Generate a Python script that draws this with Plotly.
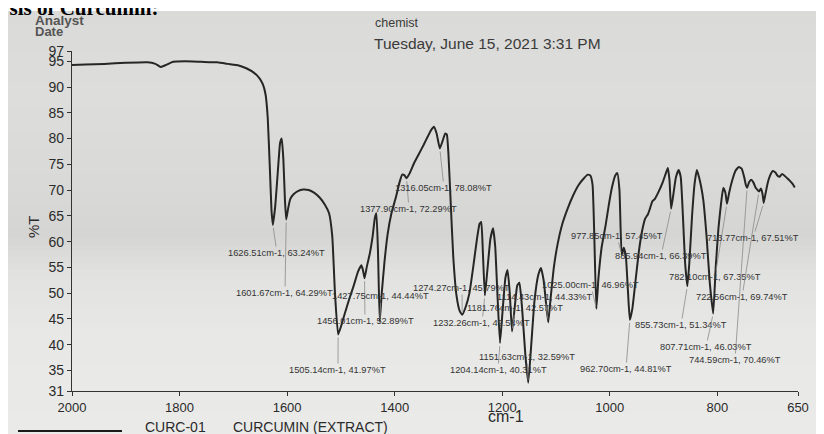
import plotly.graph_objects as go

# ---------------- data ----------------
wavenumber = [2000, 1975, 1940, 1900, 1860, 1845, 1835, 1825, 1812, 1790, 1760, 1730, 1710, 1690, 1675, 1662,
              1652, 1645, 1640, 1636, 1632, 1629, 1626.51, 1622, 1617, 1613, 1610, 1607, 1604, 1601.67, 1598,
              1594, 1588, 1580, 1570, 1560, 1550, 1540, 1530, 1522, 1516, 1511, 1505.14, 1499, 1492, 1484,
              1476, 1468, 1462, 1459, 1456.01, 1452, 1446, 1441, 1437, 1434, 1431, 1427.75, 1424, 1419, 1413,
              1406, 1398, 1391, 1386, 1382, 1377.90, 1372, 1364, 1355, 1346, 1338, 1332, 1327, 1322, 1316.05,
              1311, 1306, 1303, 1300, 1296, 1291, 1285, 1279, 1274.27, 1268, 1261, 1254, 1247, 1242, 1239,
              1236, 1232.26, 1228, 1222, 1217, 1213, 1209, 1204.14, 1199, 1194, 1190, 1186, 1181.76, 1177,
              1172, 1168, 1163, 1157, 1151.63, 1146, 1140, 1133, 1128, 1123, 1118, 1114.43, 1110, 1104, 1097,
              1088, 1078, 1068, 1058, 1048, 1041, 1036, 1032, 1029, 1025.00, 1021, 1015, 1008, 1002, 996, 990,
              986, 982, 977.85, 974, 970, 966, 962.70, 958, 952, 946, 940, 934, 929, 925, 921, 916, 910, 902,
              896, 892, 889, 885.94, 882, 877, 872, 868, 864, 860, 855.73, 852, 847, 842, 838, 834, 830, 826,
              820, 814, 807.71, 803, 798, 793, 789, 785, 782.10, 778, 772, 766, 760, 755, 750, 747, 744.59,
              741, 737, 733, 729, 725, 722.56, 719, 716, 713.77, 710, 706, 702, 697, 692, 688, 684, 680, 675,
              670, 665, 660, 656]
transmittance = [94.3, 94.4, 94.5, 94.7, 94.8, 94.5, 93.9, 94.3, 94.9, 95.0, 94.9, 94.8, 94.5, 94.2, 93.6, 92.8,
                 91.8, 90.5, 88.5, 84, 74, 66, 63.24, 67, 74, 79.2, 80.0, 76, 68, 64.29, 66.5,
                 68.3, 69.2, 69.8, 70.1, 70.0, 69.5, 68.6, 67.2, 65.5, 61, 50, 41.97, 43.8, 46.3, 49,
                 51.5, 54.2, 55.4, 54.5, 52.89, 55, 57.8, 61, 64.5, 65.5, 58, 44.44, 50, 56, 61.5,
                 65.5, 68.5, 71.5, 73.0, 72.9, 72.29, 73.3, 75.2, 77, 78.8, 80.5, 81.7, 82.3, 81, 78.08,
                 79.5, 81.0, 80.8, 77, 68, 57, 49.5, 46.5, 45.79, 47.3, 50, 55, 60.5, 63.5, 63.8,
                 58, 49.54, 54, 60.5, 62.6, 59, 50, 40.31, 47, 53, 54.5, 50, 42.57, 47,
                 51.5, 52, 47, 38, 32.59, 40, 48.5, 53.5, 54.9, 52.5, 47.5, 44.33, 49, 55, 59.5,
                 63.5, 66.5, 69, 71, 72.3, 73, 72.8, 71, 62, 46.96, 53, 59, 63, 67, 70.5, 72.8,
                 73.3, 70, 57.45, 58.8, 57, 50, 44.81, 47, 52.5, 58, 62, 64.5, 65.3, 66.5, 67.8, 68.3, 69.5, 71.4,
                 73.2, 74.3, 72, 66.39, 69, 72.5, 73.9, 72.5, 65, 56, 51.34, 56, 65, 71.5, 73.9, 72.5, 70.6, 68,
                 61, 52, 46.03, 55, 62.5, 67.5, 70.4, 69.5, 67.35, 69.5, 72, 73.8, 74.5, 74.2, 72.5, 71, 70.46,
                 71.5, 72, 71.5, 70.5, 70, 69.74, 70.3, 69.3, 67.51, 69.5, 71.5, 72.8, 73.7, 73.4, 72.8, 72.6, 73.1, 72.8,
                 72.3, 71.8, 71.2, 70.5]

peak_wavenumber = [1626.51, 1601.67, 1505.14, 1456.01, 1427.75, 1377.90, 1316.05, 1274.27, 1232.26, 1204.14,
                   1181.76, 1151.63, 1114.43, 1025.00, 977.85, 962.70, 885.94, 855.73, 807.71, 782.10,
                   744.59, 722.56, 713.77]
peak_transmittance = [63.24, 64.29, 41.97, 52.89, 44.44, 72.29, 78.08, 45.79, 49.54, 40.31,
                      42.57, 32.59, 44.33, 46.96, 57.45, 44.81, 66.39, 51.34, 46.03, 67.35,
                      70.46, 69.74, 67.51]

x_tick_values = [2000, 1800, 1600, 1400, 1200, 1000, 800, 650]
x_tick_labels = ["2000", "1800", "1600", "1400", "1200", "1000", "800", "650"]
y_tick_values = [31, 35, 40, 45, 50, 55, 60, 65, 70, 75, 80, 85, 90, 95, 97]
y_tick_labels = ["31", "35", "40", "45", "50", "55", "60", "65", "70", "75", "80", "85", "90", "95", "97"]

# ---------------- styling / layout ----------------
OFF = 8                      # the page body margin: figure sits 8 px in from the window corner
W, H = 824 - OFF, 434 - OFF  # figure size so it fits the window exactly
# plot area in window pixels: left 72, right 798, top 51, bottom 391
ML, MT = 72 - OFF, 51 - OFF
PW, PH = 798 - 72, 391 - 51
MR, MB = W - ML - PW, H - MT - PH
X_RANGE = [2000, 650]
Y_RANGE = [31, 97]

# label centre positions (window pixels) for each peak annotation, same order as the peaks
label_pos = [(277, 253), (285, 293), (338, 370), (365, 321), (381, 296), (409, 209), (444, 188),
             (462, 288), (482, 323), (498, 370), (515, 308), (527, 357), (545, 297), (591, 285),
             (617, 236), (626, 369), (661, 256), (681, 325), (706, 347), (715, 277), (735, 360),
             (742, 297), (753, 238)]

# paper shading of the photograph: (window y, grey level)
shade_stops = [(10, 218), (100, 221), (180, 217), (235, 213), (275, 226), (340, 232), (434, 234)]


def fig_x(v):
    return ML + (X_RANGE[0] - v) / (X_RANGE[0] - X_RANGE[1]) * PW


def fig_y(v):
    return MT + (Y_RANGE[1] - v) / (Y_RANGE[1] - Y_RANGE[0]) * PH


def paper_x(p):  # window pixel -> paper coordinate
    return (p - OFF - ML) / PW


def paper_y(p):
    return (MT + PH - (p - OFF)) / PH


def shade_at(y):
    for (y0, g0), (y1, g1) in zip(shade_stops[:-1], shade_stops[1:]):
        if y0 <= y <= y1:
            return g0 + (g1 - g0) * (y - y0) / (y1 - y0)
    return shade_stops[-1][1]


FONT = "Liberation Sans, Arial, sans-serif"
INK = "#2b2b2b"

fig = go.Figure()
fig.add_trace(go.Scatter(x=wavenumber, y=transmittance, mode="lines",
                         line=dict(color="#262626", width=2, shape="spline", smoothing=0.4),
                         hoverinfo="x+y", showlegend=False))

annotations = []
for wn, t, (lx, ly) in zip(peak_wavenumber, peak_transmittance, label_pos):
    annotations.append(dict(
        x=wn, y=t, xref="x", yref="y",
        text=f"{wn:.2f}cm-1, {t:.2f}%T",
        showarrow=True, arrowhead=0, arrowwidth=0.8, arrowcolor="#8a8a8a", standoff=3,
        ax=(lx - OFF) - fig_x(wn), ay=(ly - OFF) - fig_y(t),
        font=dict(family=FONT, size=9.3, color="#333333"),
    ))


def txt(text, x, y, size, xanchor="left", yanchor="middle", color=INK, family=FONT, angle=0, bold=False):
    if bold:
        text = f"<b>{text}</b>"
    annotations.append(dict(text=text, x=paper_x(x), y=paper_y(y), xref="paper", yref="paper",
                            showarrow=False, xanchor=xanchor, yanchor=yanchor, textangle=angle,
                            font=dict(family=family, size=size, color=color)))


txt("ysis of Curcumin:", -3, 22, 21, yanchor="bottom", color="#000000",
    family="Liberation Serif, Times New Roman, serif", bold=True)
txt("Analyst", 33, 20, 13.5, color="#555555", bold=True)
txt("Date", 33, 32, 13, color="#555555", bold=True)
txt("chemist", 373, 23, 12.5, color="#3a3a3a")
txt("Tuesday, June 15, 2021 3:31 PM", 372, 43, 15.5, color="#3a3a3a")
txt("%T", 34, 227, 15, xanchor="center", angle=-90)
txt("cm-1", 506, 416, 16, xanchor="center")
txt("CURC-01", 143, 427, 14)
txt("CURCUMIN (EXTRACT)", 231, 427, 14)

shapes = []
# photographed paper, drawn as thin horizontal bands of a smooth grey gradient
band = 6
for y0 in range(11, 434, band):
    g = int(round(shade_at(y0 + band / 2)))
    shapes.append(dict(type="rect", xref="paper", yref="paper", x0=paper_x(8), x1=paper_x(830),
                       y0=paper_y(y0), y1=paper_y(min(y0 + band, 440) + 0.5),
                       fillcolor=f"rgb({g},{g},{g - 2})", line=dict(width=0), layer="below"))
# legend sample line
shapes.append(dict(type="line", xref="paper", yref="paper", x0=paper_x(18), x1=paper_x(122),
                   y0=paper_y(431), y1=paper_y(431), line=dict(color="#1a1a1a", width=2)))

fig.update_layout(
    width=W, height=H, autosize=False,
    margin=dict(l=ML, r=MR, t=MT, b=MB),
    paper_bgcolor="#ffffff", plot_bgcolor="rgba(0,0,0,0)",
    annotations=annotations, shapes=shapes,
    xaxis=dict(range=X_RANGE, tickvals=x_tick_values, ticktext=x_tick_labels,
               showline=True, linecolor="#333333", linewidth=1.3, ticks="outside", ticklen=4,
               tickcolor="#333333", showgrid=False, zeroline=False, automargin=False,
               tickfont=dict(family=FONT, size=13, color=INK)),
    yaxis=dict(range=Y_RANGE, tickvals=y_tick_values, ticktext=y_tick_labels,
               showline=True, linecolor="#333333", linewidth=1.3, ticks="outside", ticklen=4,
               tickcolor="#333333", showgrid=False, zeroline=False, automargin=False,
               tickfont=dict(family=FONT, size=14, color=INK)),
)

fig.write_html("out.html")
